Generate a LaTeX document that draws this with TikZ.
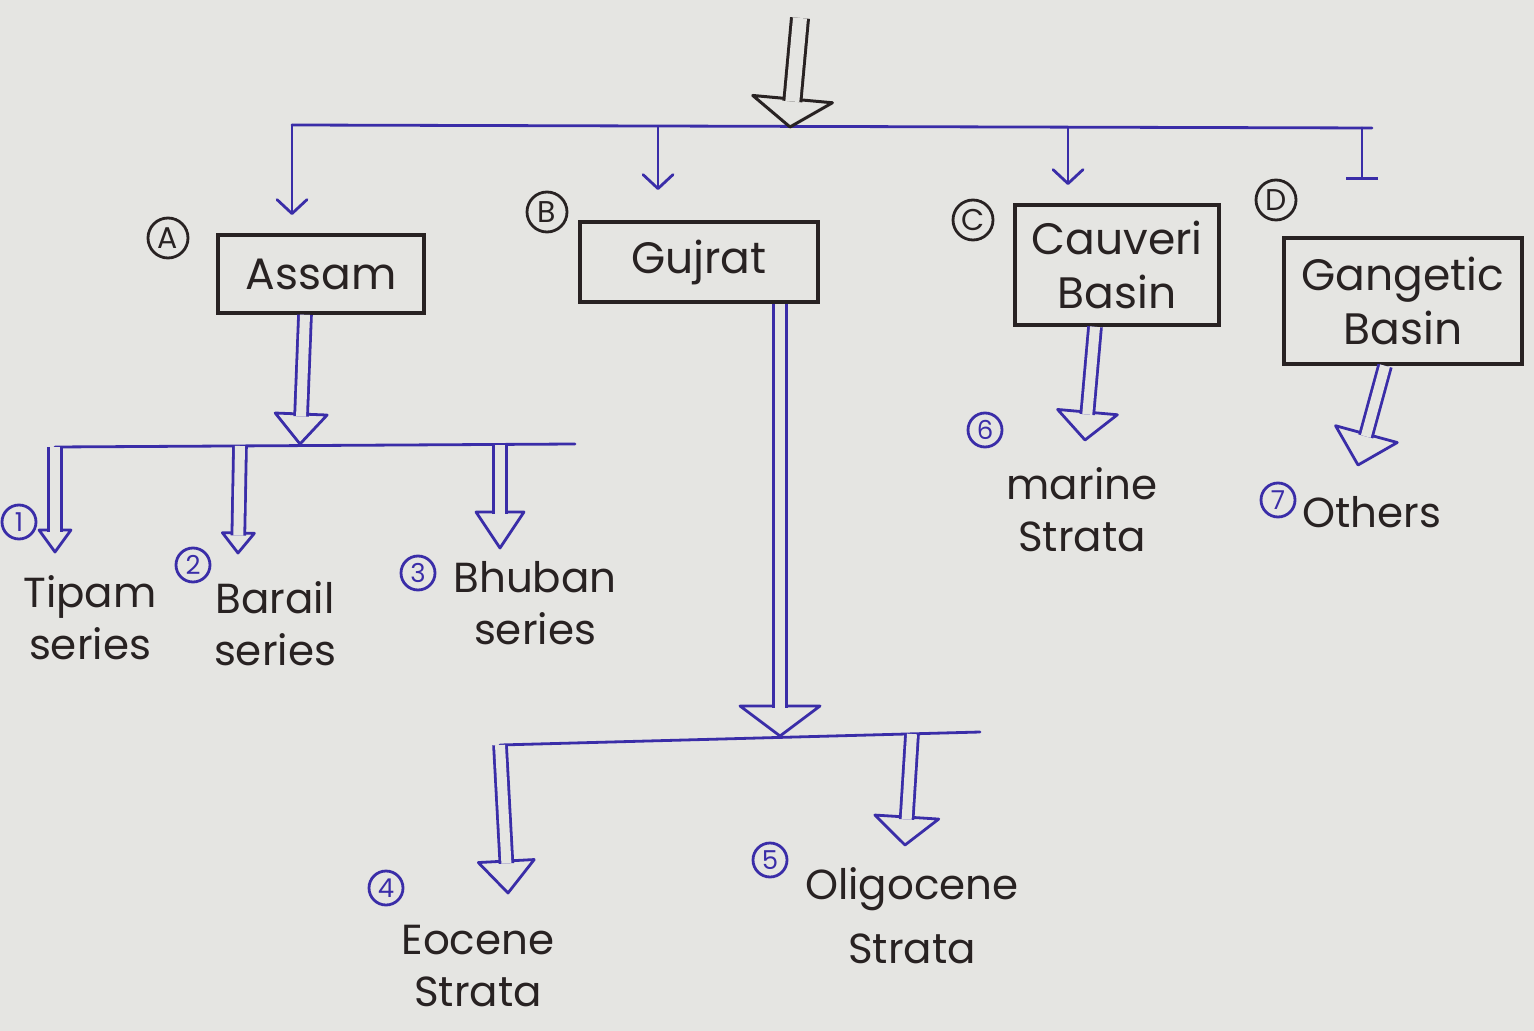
\documentclass[tikz,border=0pt]{standalone}
\usepackage{fontspec}
\setmainfont{Poppins}
\usetikzlibrary{arrows.meta,calc}
\definecolor{paper}{RGB}{229,229,226}
\definecolor{binks}{RGB}{58,45,168}
\definecolor{kink}{RGB}{40,34,34}
\def\dbld{5pt}
% #1 style, #2 start, #3 tip, #4 head half-width, #5 head length
\newcommand\dblarr[5][]{%
  \coordinate (hb) at ($(#3)!#5!(#2)$);
  \draw[#1, fill=paper, line join=round] ($(hb)!#4!90:(#3)$) -- (#3) -- ($(hb)!#4!-90:(#3)$) -- cycle;
  \draw[#1, line cap=butt, double=paper, double distance=\dbld, shorten >=#5-1.2pt] (#2) -- (#3);
}
\begin{document}
\begin{tikzpicture}[x=0.5pt,y=-0.5pt,
  bline/.style={draw=binks, line width=1.4pt, line cap=round},
  kline/.style={draw=kink, line width=1.5pt, line cap=round},
  sarr/.style={bline, -{Straight Barb[length=7pt,width=15pt,round]}},
  box/.style={draw=kink, line width=1.8pt, align=center, inner sep=2pt, text=kink,
    font=\fontsize{22}{27}\selectfont},
  lbl/.style={align=center, text=kink, font=\fontsize{21}{26}\selectfont, inner sep=1pt},
  kcirc/.style={circle, draw=kink, line width=1.4pt, text=kink, inner sep=0pt,
    minimum size=20pt, font=\fontsize{15}{15}\selectfont},
  ncirc/.style={circle, draw=binks, line width=1.4pt, text=binks, inner sep=0pt,
    minimum size=17pt, font=\fontsize{13}{13}\selectfont}]
\useasboundingbox (0,0) rectangle (1534,1031);
\fill[paper] (0,0) rectangle (1534,1031);

% boxes
\node[box, minimum width=103pt, minimum height=39pt] (assam) at (321,274) {Assam};
\node[box, minimum width=119pt, minimum height=40pt] (gujrat) at (699,262) {Gujrat};
\node[box, minimum width=102pt, minimum height=60pt] (cauveri) at (1117,265) {Cauveri\\Basin};
\node[box, minimum width=119pt, minimum height=63pt] (gangetic) at (1403,301) {Gangetic\\Basin};

% circled letters
\node[kcirc] (cA) at (168,238) {A};
\node[kcirc] (cB) at (547,212) {B};
\node[kcirc] (cC) at (973,220) {C};
\node[kcirc] (cD) at (1276,200) {D};

% circled numbers
\node[ncirc] (n1) at (19,522) {1};
\node[ncirc] (n2) at (193,565) {2};
\node[ncirc] (n3) at (418,573) {3};
\node[ncirc] (n4) at (386,888) {4};
\node[ncirc] (n5) at (770,860) {5};
\node[ncirc] (n6) at (985,430) {6};
\node[ncirc] (n7) at (1278,500) {7};

% leaf labels
\node[lbl] (tipam) at (90,618) {Tipam\\series};
\node[lbl] (barail) at (275,624) {Barail\\series};
\node[lbl] (bhuban) at (535,603) {Bhuban\\series};
\node[lbl] (marine) at (1082,510) {marine\\Strata};
\node[lbl] (others) at (1372,512) {Others};
\node[lbl] (eocene) at (478,966) {Eocene\\Strata};
\node[lbl, font=\fontsize{21}{32}\selectfont] (oligo) at (912,916) {Oligocene\\Strata};

% top bar and drops
\coordinate (barL) at (292,125);
\coordinate (barR) at (1372,128);
\draw[bline] (barL) -- (barR);
\coordinate (dB) at (658,127);
\coordinate (dC) at (1068,128);
\coordinate (dD) at (1362,128);
\coordinate (tA) at (292,215);
\coordinate (tB) at (658,190);
\coordinate (tC) at (1068,185);
\coordinate (tD) at (1362,180);
\draw[sarr] (barL) -- (tA);
\draw[sarr] (dB) -- (tB);
\draw[sarr] (dC) -- (tC);
\draw[bline, -{Bar[width=16pt]}] (dD) -- (tD);

% top incoming arrow
\coordinate (topS) at (800,18);
\coordinate (topT) at (790,127);
{\def\dbld{7pt}\dblarr[kline]{topS}{topT}{20pt}{14pt}}

% Assam branch
\coordinate (aS) at ($(assam.south)+(-16,0)$);
\coordinate (aJ) at (300,444);
\dblarr[bline]{aS}{aJ}{13pt}{15pt}
\coordinate (aL) at (55,447);
\coordinate (aR) at (575,444);
\draw[bline] (aL) -- (aR);
\coordinate (s2) at (240,446);
\coordinate (s3) at (500,445);
\coordinate (t1) at (55,552);
\coordinate (t2) at (238,553);
\coordinate (t3) at (500,548);
\dblarr[bline]{aL}{t1}{8pt}{11pt}
\dblarr[bline]{s2}{t2}{8pt}{10pt}
\dblarr[bline]{s3}{t3}{12pt}{18pt}

% Gujrat branch
\coordinate (gS) at ($(gujrat.south)+(81,0)$);
\coordinate (gJ) at (780,736);
\dblarr[bline]{gS}{gJ}{20pt}{15pt}
\coordinate (gL) at (500,745);
\coordinate (gR) at (980,732);
\draw[bline] (gL) -- (gR);
\coordinate (s5) at (912,734);
\coordinate (t4) at (508,893);
\coordinate (t5) at (905,845);
\dblarr[bline]{gL}{t4}{14pt}{16pt}
\dblarr[bline]{s5}{t5}{16pt}{14pt}

% Cauveri and Gangetic branches
\coordinate (cS) at ($(cauveri.south)+(-22,0)$);
\coordinate (cT) at (1085,440);
\dblarr[bline]{cS}{cT}{15pt}{14pt}
\coordinate (kS) at ($(gangetic.south)+(-18,0)$);
\coordinate (kT) at (1358,465);
\dblarr[bline]{kS}{kT}{16pt}{16pt}
\end{tikzpicture}
\end{document}
